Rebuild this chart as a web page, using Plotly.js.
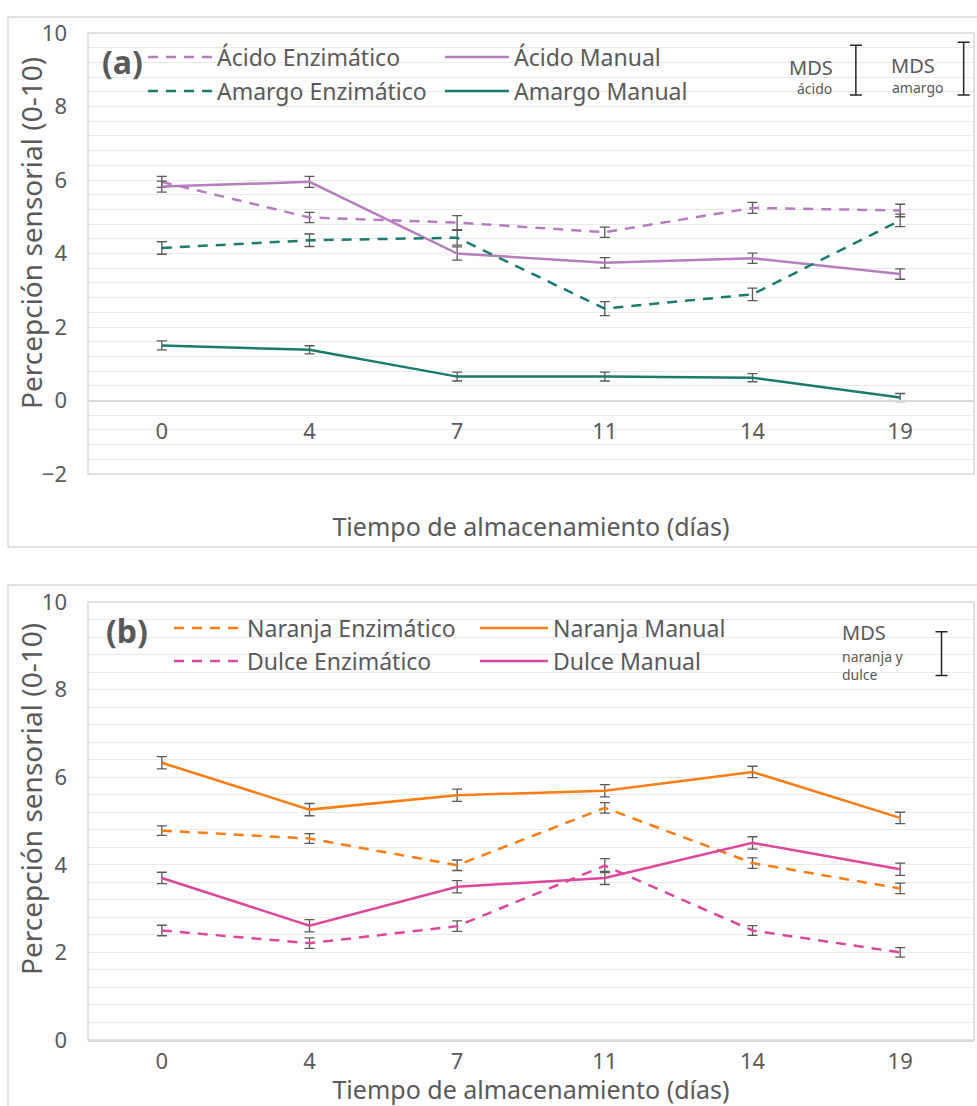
<!DOCTYPE html>
<html>
<head>
<meta charset="utf-8">
<script src="https://cdn.plot.ly/plotly-3.0.1.min.js"></script>
<style>
html,body{margin:0;padding:0;background:#fff;}
#chart{width:977px;height:1106px;}
</style>
</head>
<body>
<div id="chart"></div>
<script>
// ---- Data ----
const dias = ['0', '4', '7', '11', '14', '19'];

// Panel (a)
const acidoEnz      = [5.95, 4.98, 4.84, 4.58, 5.24, 5.17];
const acidoEnzErr   = [0.15, 0.14, 0.19, 0.14, 0.15, 0.17];
const acidoMan      = [5.82, 5.95, 4.00, 3.75, 3.87, 3.44];
const acidoManErr   = [0.15, 0.15, 0.18, 0.14, 0.14, 0.14];
const amargoEnz     = [4.15, 4.36, 4.43, 2.50, 2.89, 4.90];
const amargoEnzErr  = [0.17, 0.17, 0.20, 0.19, 0.17, 0.17];
const amargoMan     = [1.50, 1.38, 0.65, 0.65, 0.62, 0.08];
const amargoManErr  = [0.12, 0.11, 0.12, 0.12, 0.11, 0.11];

// Panel (b)
const naranjaEnz    = [4.78, 4.60, 3.99, 5.30, 4.04, 3.46];
const naranjaEnzErr = [0.11, 0.11, 0.12, 0.12, 0.12, 0.12];
const naranjaMan    = [6.33, 5.26, 5.59, 5.69, 6.12, 5.07];
const naranjaManErr = [0.14, 0.14, 0.14, 0.14, 0.13, 0.13];
const dulceEnz      = [2.50, 2.21, 2.60, 3.98, 2.50, 2.00];
const dulceEnzErr   = [0.12, 0.12, 0.12, 0.16, 0.11, 0.11];
const dulceMan      = [3.70, 2.61, 3.50, 3.70, 4.50, 3.90];
const dulceManErr   = [0.13, 0.14, 0.14, 0.15, 0.14, 0.14];

// MDS (least significant difference) bars
const mdsLabelsA = ['ácido', 'amargo'];
const mdsValuesA = [1.36, 1.44];
const mdsLabelB  = 'naranja y<br>dulce';
const mdsValuesB = [1.00];

// ---- Styling ----
const W = 977, H = 1106;
const px = x => x / W;
const py = y => 1 - y / H;
const GREY = '#595959';
const FONT = 'Noto Sans, Open Sans, DejaVu Sans, sans-serif';
const C_ACIDO = '#b77cc0', C_AMARGO = '#1b7a6e', C_NARANJA = '#fb7c12', C_DULCE = '#dc479d';
const DASH = '10px,8px';

function series(name, y, err, color, dashed, xa, ya, leg) {
  return {
    type: 'scatter', mode: 'lines', name: name, x: dias, y: y,
    xaxis: xa, yaxis: ya, legend: leg,
    line: {color: color, width: 2.5, dash: dashed ? DASH : 'solid'},
    error_y: {type: 'data', array: err, visible: true, color: GREY, thickness: 1.3, width: 5},
    hoverinfo: 'x+y+name'
  };
}
function mdsTrace(xpos, base, vals, xa, ya) {
  return {
    type: 'scatter', mode: 'markers', x: xpos, y: base,
    xaxis: xa, yaxis: ya, showlegend: false, hoverinfo: 'skip',
    marker: {size: 1, opacity: 0},
    error_y: {type: 'data', symmetric: false, array: vals, arrayminus: vals.map(() => 0),
              visible: true, color: '#262626', thickness: 1.5, width: 6}
  };
}

const data = [
  series('Ácido Enzimático', acidoEnz, acidoEnzErr, C_ACIDO, true, 'x', 'y', 'legend'),
  series('Ácido Manual', acidoMan, acidoManErr, C_ACIDO, false, 'x', 'y', 'legend'),
  series('Amargo Enzimático', amargoEnz, amargoEnzErr, C_AMARGO, true, 'x', 'y', 'legend2'),
  series('Amargo Manual', amargoMan, amargoManErr, C_AMARGO, false, 'x', 'y', 'legend2'),
  mdsTrace([4.70, 5.43], [8.31, 8.31], mdsValuesA, 'x3', 'y'),
  series('Naranja Enzimático', naranjaEnz, naranjaEnzErr, C_NARANJA, true, 'x2', 'y2', 'legend3'),
  series('Naranja Manual', naranjaMan, naranjaManErr, C_NARANJA, false, 'x2', 'y2', 'legend3'),
  series('Dulce Enzimático', dulceEnz, dulceEnzErr, C_DULCE, true, 'x2', 'y2', 'legend4'),
  series('Dulce Manual', dulceMan, dulceManErr, C_DULCE, false, 'x2', 'y2', 'legend4'),
  mdsTrace([5.28], [8.32], mdsValuesB, 'x4', 'y2')
];

const xdom = [px(88), px(974)];
const tickFont = {family: FONT, size: 22, color: GREY};
const titleFont = {family: FONT, size: 25, color: GREY};
const grid = '#eaeaea';

function ann(text, x, y, size, opts) {
  return Object.assign({text: text, xref: 'paper', yref: 'paper', x: px(x), y: py(y),
    xanchor: 'center', yanchor: 'middle', showarrow: false,
    font: {family: FONT, size: size, color: GREY}}, opts || {});
}
function legendRow(x, y, entry, itemw) {
  return {
    orientation: 'h', x: px(x), y: py(y), xanchor: 'left', yanchor: 'middle',
    bgcolor: 'rgba(0,0,0,0)', borderwidth: 0, font: {family: FONT, size: 23, color: GREY},
    entrywidth: entry, entrywidthmode: 'pixels', traceorder: 'normal', itemwidth: itemw
  };
}

const layout = {
  width: W, height: H,
  margin: {l: 0, r: 0, t: 0, b: 0},
  paper_bgcolor: '#fff', plot_bgcolor: '#fff',
  font: {family: FONT, color: GREY},
  showlegend: true,
  xaxis: {
    domain: xdom, type: 'category', range: [-0.5, 5.5], anchor: 'free', position: py(400),
    showline: true, linecolor: '#d9d9d9', linewidth: 1.5, showgrid: false, zeroline: false,
    ticks: '', tickfont: tickFont, ticklabelstandoff: 11,
    title: {text: 'Tiempo de almacenamiento (días)', font: titleFont, standoff: 74}
  },
  xaxis3: {overlaying: 'x', domain: xdom, range: [-0.5, 5.5], visible: false, anchor: 'y'},
  yaxis: {
    domain: [py(474), py(33)], range: [-2, 10], tick0: 0, dtick: 2, anchor: 'x',
    showgrid: true, gridcolor: grid, gridwidth: 1, zeroline: false,
    minor: {tick0: 0, dtick: 0.4, showgrid: true, gridcolor: grid, gridwidth: 1},
    ticks: '', tickfont: tickFont, ticklabelstandoff: 20
  },
  xaxis2: {
    domain: xdom, type: 'category', range: [-0.5, 5.5], anchor: 'y2',
    showline: true, linecolor: '#d9d9d9', linewidth: 1.5, showgrid: false, zeroline: false,
    ticks: '', tickfont: tickFont, ticklabelstandoff: 1,
    title: {text: 'Tiempo de almacenamiento (días)', font: titleFont, standoff: 8}
  },
  xaxis4: {overlaying: 'x2', domain: xdom, range: [-0.5, 5.5], visible: false, anchor: 'y2'},
  yaxis2: {
    domain: [py(1040), py(602)], range: [0, 10], tick0: 0, dtick: 2, anchor: 'x2',
    showgrid: true, gridcolor: grid, gridwidth: 1, zeroline: false,
    minor: {tick0: 0, dtick: 0.4, showgrid: true, gridcolor: grid, gridwidth: 1},
    ticks: '', tickfont: tickFont, ticklabelstandoff: 20
  },
  legend:  legendRow(143, 57, 218, 64),
  legend2: legendRow(143, 91, 218, 64),
  legend3: legendRow(169, 628, 223, 68),
  legend4: legendRow(169, 661, 223, 68),
  shapes: [
    // outer chart frames
    {type: 'rect', xref: 'paper', yref: 'paper', x0: px(8), x1: px(984), y0: py(547), y1: py(17),
     line: {color: '#d9d9d9', width: 1.5}, layer: 'below'},
    {type: 'rect', xref: 'paper', yref: 'paper', x0: px(8), x1: px(984), y0: py(1120), y1: py(585),
     line: {color: '#d9d9d9', width: 1.5}, layer: 'below'},
    // plot area borders
    {type: 'rect', xref: 'paper', yref: 'paper', x0: xdom[0], x1: xdom[1], y0: py(474), y1: py(33),
     line: {color: '#d9d9d9', width: 1.5}, layer: 'above'},
    {type: 'rect', xref: 'paper', yref: 'paper', x0: xdom[0], x1: xdom[1], y0: py(1040), y1: py(602),
     line: {color: '#d9d9d9', width: 1.5}, layer: 'above'}
  ],
  annotations: [
    ann('Percepción sensorial (0-10)', 31, 233, 28, {textangle: -90}),
    ann('Percepción sensorial (0-10)', 31, 799, 28, {textangle: -90}),
    ann('<b>(a)</b>', 123, 62, 32),
    ann('<b>(b)</b>', 127, 630, 32),
    ann('MDS', 811, 68, 20),
    ann(mdsLabelsA[0], 814, 88, 14),
    ann('MDS', 913, 65, 20),
    ann(mdsLabelsA[1], 918, 87, 14),
    ann('MDS', 840, 632, 20, {xanchor: 'left'}),
    ann(mdsLabelB, 840, 665, 14, {xanchor: 'left', align: 'left'})
  ]
};

Plotly.newPlot('chart', data, layout, {displayModeBar: false, staticPlot: true});
</script>
</body>
</html>
